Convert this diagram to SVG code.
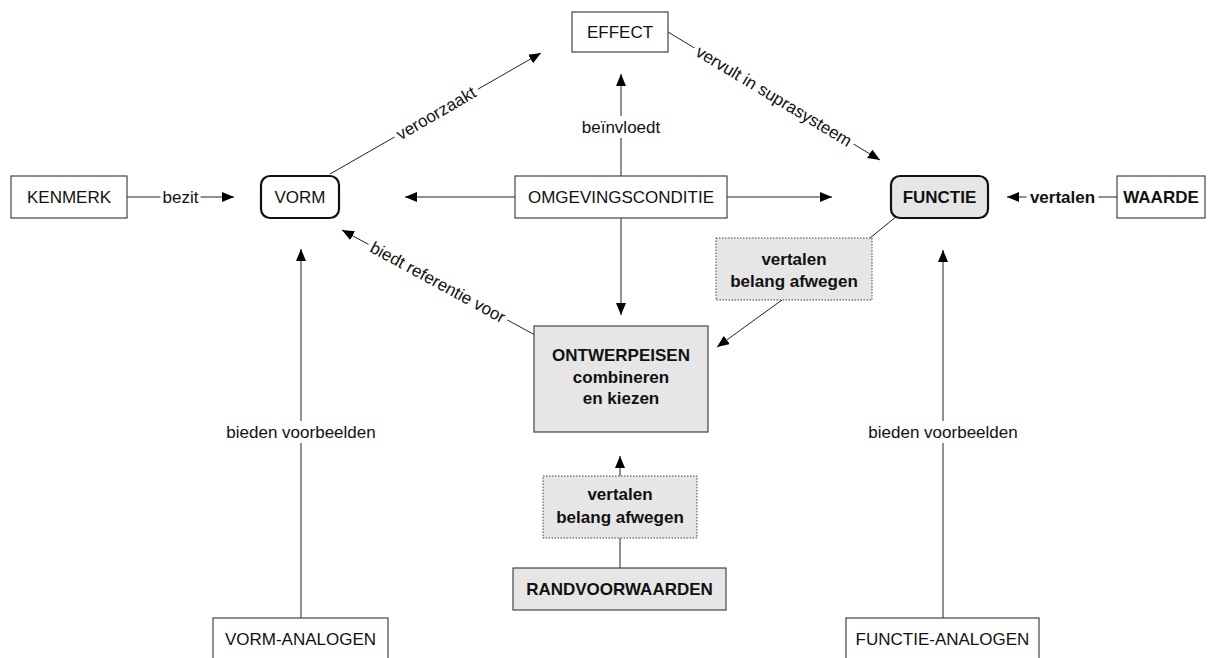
<svg xmlns="http://www.w3.org/2000/svg" width="1215" height="658" viewBox="0 0 1215 658">
  <style>
    text { font-family: "Liberation Sans", Arial, sans-serif; font-size: 17px; fill: #111; text-anchor: middle; }
    .b { font-weight: bold; }
    .box { fill: #fff; stroke: #444; stroke-width: 1.2; }
    .grey { fill: #e6e6e6; stroke: #444; stroke-width: 1.2; }
    .round { fill: #fff; stroke: #111; stroke-width: 2.2; }
    .roundgrey { fill: #e6e6e6; stroke: #111; stroke-width: 2.2; }
    .dotted { fill: #e6e6e6; stroke: #444; stroke-width: 1; stroke-dasharray: 1.5 1.5; }
    .ln { fill: none; stroke: #222; stroke-width: 1; }
    .arr { marker-end: url(#head); }
    .bg { fill: #fff; }
  </style>
  <defs>
    <marker id="head" viewBox="0 0 12 10" refX="12" refY="5" markerWidth="12" markerHeight="10" markerUnits="userSpaceOnUse" orient="auto">
      <path d="M0,0 L12,5 L0,10 z" fill="#000"/>
    </marker>
  </defs>

  <rect width="1215" height="658" fill="#fff"/>

  <!-- connectors -->
  <g id="connectors">
    <line class="ln arr" x1="127" y1="197" x2="234" y2="197"/>
    <line class="ln arr" x1="330" y1="174" x2="541" y2="53"/>
    <line class="ln arr" x1="668" y1="32" x2="880" y2="160"/>
    <line class="ln arr" x1="621" y1="176" x2="621" y2="74"/>
    <line class="ln arr" x1="515" y1="197" x2="405" y2="197"/>
    <line class="ln arr" x1="727" y1="197" x2="832" y2="197"/>
    <line class="ln arr" x1="621" y1="218" x2="621" y2="315"/>
    <line class="ln arr" x1="1117" y1="197" x2="1007" y2="197"/>
    <line class="ln" x1="897" y1="216" x2="870" y2="238"/>
    <line class="ln arr" x1="782" y1="300" x2="717" y2="347"/>
    <line class="ln arr" x1="535" y1="335" x2="342" y2="230"/>
    <line class="ln arr" x1="301" y1="618" x2="301" y2="249"/>
    <line class="ln arr" x1="943" y1="618" x2="943" y2="250"/>
    <line class="ln" x1="620" y1="568" x2="620" y2="538"/>
    <line class="ln arr" x1="620" y1="476" x2="620" y2="456"/>

    <!-- connector labels -->
    <g transform="translate(180.5,197)"><rect class="bg" x="-20" y="-10" width="40" height="20"/><text y="6">bezit</text></g>
    <g transform="translate(436,113) rotate(-30)"><rect class="bg" x="-48" y="-10" width="96" height="20"/><text y="6">veroorzaakt</text></g>
    <g transform="translate(774,96) rotate(31.1)"><rect class="bg" x="-93" y="-10" width="186" height="20"/><text y="6">vervult in suprasysteem</text></g>
    <g transform="translate(621,127)"><rect class="bg" x="-42" y="-11" width="84" height="22"/><text y="6">beïnvloedt</text></g>
    <g transform="translate(1062.5,197)"><rect class="bg" x="-36" y="-10" width="72" height="20"/><text class="b" y="6">vertalen</text></g>
    <g transform="translate(438,282) rotate(28.5)"><rect class="bg" x="-79" y="-10" width="158" height="20"/><text y="6">biedt referentie voor</text></g>
    <g transform="translate(301,432)"><rect class="bg" x="-78" y="-11" width="156" height="22"/><text y="6">bieden voorbeelden</text></g>
    <g transform="translate(943,432)"><rect class="bg" x="-78" y="-11" width="156" height="22"/><text y="6">bieden voorbeelden</text></g>
  </g>

  <!-- nodes -->
  <g id="kenmerk">
    <rect class="box" x="11" y="176" width="116" height="42"/>
    <text x="69" y="203">KENMERK</text>
  </g>
  <g id="vorm">
    <rect class="round" x="261" y="176" width="78" height="42" rx="9"/>
    <text x="300" y="203">VORM</text>
  </g>
  <g id="effect">
    <rect class="box" x="572" y="12" width="96" height="40"/>
    <text x="620" y="38">EFFECT</text>
  </g>
  <g id="omgevingsconditie">
    <rect class="box" x="515" y="176" width="212" height="42"/>
    <text x="621" y="203">OMGEVINGSCONDITIE</text>
  </g>
  <g id="functie">
    <rect class="roundgrey" x="891" y="176" width="97" height="42" rx="9"/>
    <text class="b" x="939.5" y="203">FUNCTIE</text>
  </g>
  <g id="waarde">
    <rect class="box" x="1117" y="176" width="88" height="42"/>
    <text class="b" x="1161" y="203">WAARDE</text>
  </g>
  <g id="vertalen-functie">
    <rect class="dotted" x="716" y="238" width="156" height="62"/>
    <text class="b" x="794" y="265">vertalen</text>
    <text class="b" x="794" y="287">belang afwegen</text>
  </g>
  <g id="ontwerpeisen">
    <rect class="grey" x="534" y="326" width="174" height="106"/>
    <text class="b" x="621" y="361">ONTWERPEISEN</text>
    <text class="b" x="621" y="383">combineren</text>
    <text class="b" x="621" y="404">en kiezen</text>
  </g>
  <g id="vertalen-rand">
    <rect class="dotted" x="543" y="476" width="154" height="62"/>
    <text class="b" x="620" y="500">vertalen</text>
    <text class="b" x="620" y="523">belang afwegen</text>
  </g>
  <g id="randvoorwaarden">
    <rect class="grey" x="513" y="568" width="213" height="42"/>
    <text class="b" x="619.5" y="595">RANDVOORWAARDEN</text>
  </g>
  <g id="vorm-analogen">
    <rect class="box" x="213" y="618" width="175" height="52"/>
    <text x="300.5" y="645">VORM-ANALOGEN</text>
  </g>
  <g id="functie-analogen">
    <rect class="box" x="846" y="618" width="193" height="52"/>
    <text x="942.5" y="645">FUNCTIE-ANALOGEN</text>
  </g>
</svg>
